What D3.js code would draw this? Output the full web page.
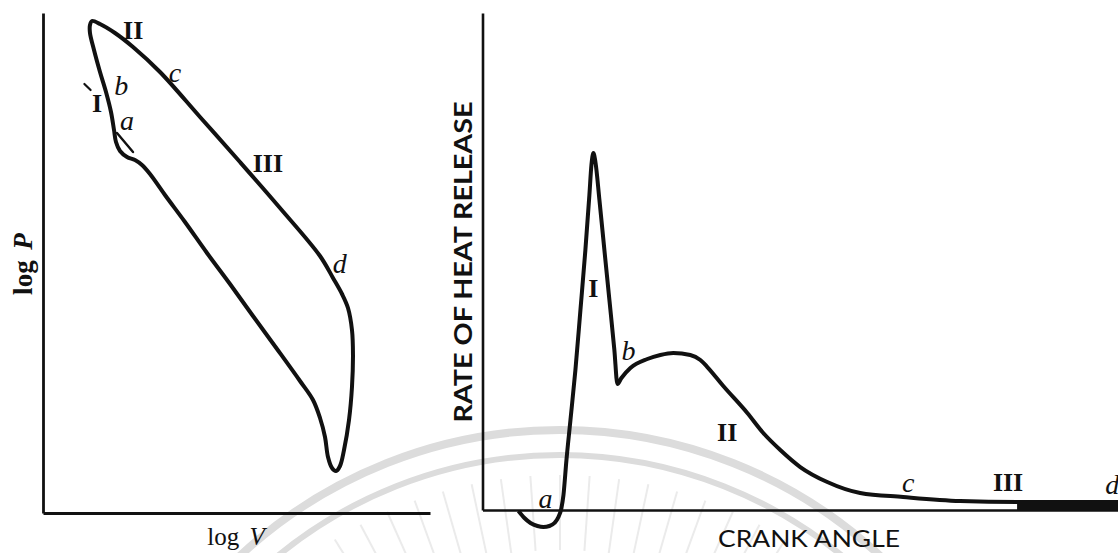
<!DOCTYPE html>
<html>
<head>
<meta charset="utf-8">
<script src="https://cdn.jsdelivr.net/npm/d3@7"></script>
<style>
  html, body { margin: 0; padding: 0; background: #fff; }
  svg { display: block; }
</style>
</head>
<body>
<svg id="chart" width="1118" height="553"></svg>
<script>
// ---- Indicator loop: log P against log V (relative units, 0-100) ----
const loopLogV = [12.66,14.73,18.6,23.26,30.23,40.57,50.9,61.24,71.58,74.94,77.26,78.81,79.84,80.1,79.84,79.07,77.78,76.74,75.71,74.68,73.64,72.87,71.58,69.77,66.41,60.47,54.26,48.32,42.38,36.69,31.52,27.65,25.58,23.77,21.71,19.9,18.86,18.35,17.57,16.28,14.73,13.18,12.14,12.14];
const loopLogP = [98.4,97.8,96.0,93.2,88.2,79.2,70.2,61.0,51.4,47.0,43.8,41.0,36.6,31.6,25.2,18.6,12.6,9.4,8.4,9.0,11.2,15.2,19.0,22.6,26.4,32.8,39.4,45.8,52.0,58.2,63.6,67.8,69.6,70.6,71.2,72.4,74.2,76.6,80.2,84.2,88.2,92.6,96.0,97.6];

// short branch line of phase I near point a, and the tick beside the "I"
const branchLogV = [19.12, 23.26];
const branchLogP = [76.0, 72.2];
const tickLogV = [10.7, 12.3];
const tickLogP = [85.8, 84.6];

// ---- Rate of heat release against crank angle (relative units) ----
const crankAngle = [5.66,6.6,7.55,8.65,9.59,10.53,11.32,11.95,12.42,12.74,13.21,13.84,14.62,15.41,16.19,16.82,17.14,17.45,17.77,18.4,19.18,19.97,20.75,21.23,21.86,23.27,25.94,27.99,30.03,32.7,34.28,35.38,37.89,41.67,44.18,46.86,50.0,54.25,59.43,66.19,75.16,84.12,100];
const heatRate = [-0.2,-1.61,-2.62,-3.22,-3.42,-3.22,-2.62,-1.41,0.4,3.02,10.06,18.11,28.17,40.24,52.31,63.38,69.42,71.83,70.02,62.37,52.31,42.25,32.19,25.35,26.56,28.57,30.38,31.19,31.59,31.19,30.18,28.77,24.95,19.52,15.49,12.07,8.65,5.63,3.42,2.62,1.81,1.6,1.6];
// the tail (phase III) is drawn as a solid band down to the axis from here on
const bandStartAngle = 84.12;

// ---- Phase labels ----
const leftLabelText  = ["II", "c", "b", "I", "a", "III", "d"];
const leftLabelV     = [23.3, 34.1, 20.2, 14.0, 21.7, 58.1, 76.7];
const leftLabelP     = [96.6, 88.2, 85.6, 82.0, 78.6, 70.0, 50.0];
const rightLabelText = ["a", "I", "b", "II", "c", "III", "d"];
const rightLabelX    = [9.9, 17.45, 22.96, 38.5, 67.0, 82.7, 99.1];
const rightLabelY    = [2.4, 44.7, 32.2, 15.7, 5.6, 5.6, 5.2];

const svg = d3.select("#chart");

// ---- faint circular stamp behind the charts ----
const stamp = svg.append("g").attr("fill", "none").attr("stroke", "#dcdcdc");
const stampCx = 560, stampCy = 900;
stamp.append("circle").attr("cx", stampCx).attr("cy", stampCy).attr("r", 470).attr("stroke-width", 8);
stamp.append("circle").attr("cx", stampCx).attr("cy", stampCy).attr("r", 445).attr("stroke-width", 6);
d3.range(-48, 49, 4).forEach(deg => {
  const a = (deg - 90) * Math.PI / 180;
  stamp.append("line")
    .attr("x1", stampCx + 350 * Math.cos(a)).attr("y1", stampCy + 350 * Math.sin(a))
    .attr("x2", stampCx + 425 * Math.cos(a)).attr("y2", stampCy + 425 * Math.sin(a))
    .attr("stroke-width", 2).attr("stroke", "#ebebeb");
});

const ink = "#111";

// ================= Left panel =================
const xL = d3.scaleLinear().domain([0, 100]).range([43, 430]);
const yL = d3.scaleLinear().domain([0, 100]).range([513, 13]);

const left = svg.append("g");
left.append("g").attr("transform", `translate(0,${yL(0)})`)
  .call(d3.axisBottom(xL).tickValues([]).tickSizeOuter(0))
  .call(g => g.select(".domain").attr("stroke", ink).attr("stroke-width", 2.8));
left.append("g").attr("transform", `translate(${xL(0)},0)`)
  .call(d3.axisLeft(yL).tickValues([]).tickSizeOuter(0))
  .call(g => g.select(".domain").attr("stroke", ink).attr("stroke-width", 2.8));

const loop = d3.zip(loopLogV, loopLogP);
left.append("path")
  .datum(loop)
  .attr("fill", "none").attr("stroke", ink).attr("stroke-width", 4)
  .attr("stroke-linejoin", "round")
  .attr("d", d3.line().x(d => xL(d[0])).y(d => yL(d[1])).curve(d3.curveCatmullRomClosed.alpha(0.5)));

[[branchLogV, branchLogP, 2.4], [tickLogV, tickLogP, 2.2]].forEach(([vs, ps, w]) => {
  left.append("path")
    .datum(d3.zip(vs, ps))
    .attr("fill", "none").attr("stroke", ink).attr("stroke-width", w).attr("stroke-linecap", "round")
    .attr("d", d3.line().x(d => xL(d[0])).y(d => yL(d[1])));
});

const isRoman = t => /^[IVX]+$/.test(t);
function phaseLabel(g, t, x, y) {
  g.append("text")
    .attr("x", x).attr("y", y).attr("dy", "0.35em")
    .attr("text-anchor", "middle")
    .attr("font-family", "'Liberation Serif', 'DejaVu Serif', serif")
    .attr("font-size", isRoman(t) ? 26 : 28)
    .attr("font-weight", isRoman(t) ? 700 : 400)
    .attr("font-style", isRoman(t) ? "normal" : "italic")
    .attr("fill", ink)
    .text(t);
}
leftLabelText.forEach((t, i) => phaseLabel(left, t, xL(leftLabelV[i]), yL(leftLabelP[i])));

// axis titles
const yTitleL = left.append("text")
  .attr("transform", "translate(32,264) rotate(-90)")
  .attr("text-anchor", "middle")
  .attr("font-family", "'Liberation Serif', 'DejaVu Serif', serif")
  .attr("font-size", 27).attr("font-weight", 700).attr("fill", ink)
  .attr("xml:space", "preserve");
yTitleL.append("tspan").text("log ");
yTitleL.append("tspan").attr("dx", 4).attr("font-style", "italic").text("P");

const xTitleL = left.append("text")
  .attr("x", 236).attr("y", 545)
  .attr("text-anchor", "middle")
  .attr("font-family", "'Liberation Serif', 'DejaVu Serif', serif")
  .attr("font-size", 25).attr("fill", ink);
xTitleL.append("tspan").text("log ");
xTitleL.append("tspan").attr("dx", 4).attr("font-style", "italic").text("V");

// ================= Right panel =================
const xR = d3.scaleLinear().domain([0, 100]).range([482.5, 1118]);
const yR = d3.scaleLinear().domain([0, 100]).range([510, 13]);

const right = svg.append("g");
right.append("g").attr("transform", `translate(0,${yR(0)})`)
  .call(d3.axisBottom(xR).tickValues([]).tickSizeOuter(0))
  .call(g => g.select(".domain").attr("stroke", ink).attr("stroke-width", 2.6));
right.append("g").attr("transform", `translate(${xR(0)},0)`)
  .call(d3.axisLeft(yR).tickValues([]).tickSizeOuter(0))
  .call(g => g.select(".domain").attr("stroke", ink).attr("stroke-width", 2.6));

const heat = d3.zip(crankAngle, heatRate);
right.append("path")
  .datum(heat.filter(d => d[0] >= bandStartAngle))
  .attr("fill", ink)
  .attr("d", d3.area().x(d => xR(d[0])).y0(yR(0)).y1(d => yR(d[1])));
right.append("path")
  .datum(heat)
  .attr("fill", "none").attr("stroke", ink).attr("stroke-width", 4)
  .attr("stroke-linejoin", "round")
  .attr("d", d3.line().x(d => xR(d[0])).y(d => yR(d[1])).curve(d3.curveMonotoneX));

rightLabelText.forEach((t, i) => phaseLabel(right, t, xR(rightLabelX[i]), yR(rightLabelY[i])));

right.append("text")
  .attr("transform", "translate(472,262) rotate(-90)")
  .attr("text-anchor", "middle")
  .attr("font-family", "Lato, 'Open Sans', 'DejaVu Sans', sans-serif")
  .attr("font-size", 24).attr("font-weight", 700).attr("fill", ink)
  .attr("textLength", 321).attr("lengthAdjust", "spacingAndGlyphs")
  .text("RATE OF HEAT RELEASE");

right.append("text")
  .attr("x", 809).attr("y", 547)
  .attr("text-anchor", "middle")
  .attr("font-family", "Lato, 'Open Sans', 'DejaVu Sans', sans-serif")
  .attr("font-size", 23).attr("fill", ink)
  .attr("textLength", 182).attr("lengthAdjust", "spacingAndGlyphs")
  .text("CRANK ANGLE");
</script>
</body>
</html>
